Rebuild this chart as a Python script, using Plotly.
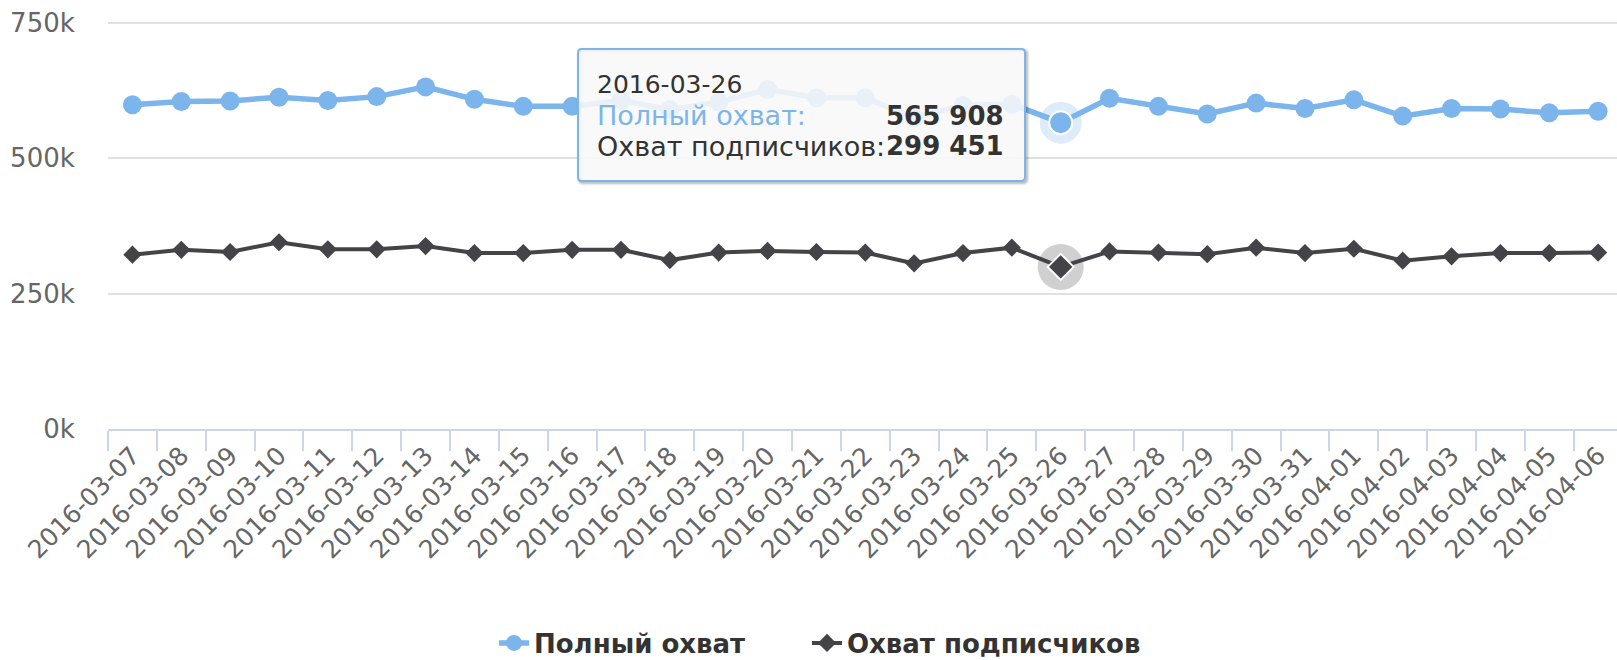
import plotly.graph_objects as go

# ---------------- data ----------------
dates = [
    "2016-03-07", "2016-03-08", "2016-03-09", "2016-03-10", "2016-03-11",
    "2016-03-12", "2016-03-13", "2016-03-14", "2016-03-15", "2016-03-16",
    "2016-03-17", "2016-03-18", "2016-03-19", "2016-03-20", "2016-03-21",
    "2016-03-22", "2016-03-23", "2016-03-24", "2016-03-25", "2016-03-26",
    "2016-03-27", "2016-03-28", "2016-03-29", "2016-03-30", "2016-03-31",
    "2016-04-01", "2016-04-02", "2016-04-03", "2016-04-04", "2016-04-05",
    "2016-04-06",
]
full_reach = [
    599000, 605000, 606000, 613000, 607000, 614000, 632000, 609000, 596000, 596000,
    607000, 590000, 604000, 627000, 612000, 612000, 575000, 598000, 600000, 565908,
    611000, 596000, 582000, 602000, 592000, 608000, 578000, 592000, 591000, 584000,
    587000,
]
subs_reach = [
    322000, 331000, 327000, 345000, 332000, 332000, 338000, 325000, 325000, 331000,
    331000, 312000, 326000, 329000, 327000, 326000, 306000, 325000, 335000, 299451,
    328000, 326000, 323000, 335000, 325000, 333000, 311000, 319000, 325000, 325000,
    326000,
]
series_names = ["Полный охват", "Охват подписчиков"]
y_tickvals = [0, 250000, 500000, 750000]
y_ticktext = ["0k", "250k", "500k", "750k"]
hover_date = "2016-03-26"

BLUE = "#7cb5ec"
DARK = "#434348"
FONT = "DejaVu Sans"

W, H = 1617, 660
ML, MR, MT, MB = 108, 0, 21, 231
PW, PH = W - ML - MR, H - MT - MB
Y_TOP = 750000 * (PH / (PH - 2))  # keep the 750k gridline 2px inside the plot


def px(x):
    return (x - ML) / PW


def py(y):
    return (H - MB - y) / PH


hi = dates.index(hover_date)

fig = go.Figure()
fig.add_trace(go.Scatter(
    x=dates, y=full_reach, name=series_names[0], mode="lines+markers",
    line=dict(color=BLUE, width=5.5),
    marker=dict(symbol="circle", size=19, color=BLUE),
    legend="legend",
))
fig.add_trace(go.Scatter(
    x=dates, y=subs_reach, name=series_names[1], mode="lines+markers",
    line=dict(color=DARK, width=4),
    marker=dict(symbol="diamond", size=14, color=DARK),
    legend="legend2",
))
# hover halos
fig.add_trace(go.Scatter(
    x=[dates[hi]], y=[full_reach[hi]], mode="markers", showlegend=False,
    marker=dict(symbol="circle", size=42, color="rgba(124,181,236,0.25)"),
    hoverinfo="skip",
))
fig.add_trace(go.Scatter(
    x=[dates[hi]], y=[full_reach[hi]], mode="markers", showlegend=False,
    marker=dict(symbol="circle", size=23, color=BLUE, line=dict(color="white", width=2)),
    hoverinfo="skip",
))
fig.add_trace(go.Scatter(
    x=[dates[hi]], y=[subs_reach[hi]], mode="markers", showlegend=False,
    marker=dict(symbol="circle", size=46, color="rgba(67,67,72,0.25)"),
    hoverinfo="skip",
))
fig.add_trace(go.Scatter(
    x=[dates[hi]], y=[subs_reach[hi]], mode="markers", showlegend=False,
    marker=dict(symbol="diamond", size=20, color=DARK, line=dict(color="white", width=2)),
    hoverinfo="skip",
))

# ---------------- tooltip ----------------
bx0, bx1, by0, by1, r = 578, 1025, 49, 181, 4


def rounded_path(x0, y0, x1, y1, r, dx=0, dy=0):
    x0, x1, y0, y1 = x0 + dx, x1 + dx, y0 + dy, y1 + dy
    pts = [
        f"M {px(x0 + r)} {py(y0)}",
        f"L {px(x1 - r)} {py(y0)}",
        f"Q {px(x1)} {py(y0)} {px(x1)} {py(y0 + r)}",
        f"L {px(x1)} {py(y1 - r)}",
        f"Q {px(x1)} {py(y1)} {px(x1 - r)} {py(y1)}",
        f"L {px(x0 + r)} {py(y1)}",
        f"Q {px(x0)} {py(y1)} {px(x0)} {py(y1 - r)}",
        f"L {px(x0)} {py(y0 + r)}",
        f"Q {px(x0)} {py(y0)} {px(x0 + r)} {py(y0)}",
        "Z",
    ]
    return " ".join(pts)


shapes = []
for w_, op in [(6, 0.05), (4, 0.08), (2, 0.12)]:
    shapes.append(dict(type="path", xref="paper", yref="paper", layer="above",
                       path=rounded_path(bx0, by0, bx1, by1, r, 1.5, 1.5),
                       fillcolor="rgba(0,0,0,0)", line=dict(color=f"rgba(0,0,0,{op})", width=w_)))
shapes.append(dict(type="path", xref="paper", yref="paper", layer="above",
                   path=rounded_path(bx0, by0, bx1, by1, r),
                   fillcolor="rgba(248,248,248,0.88)", line=dict(color=BLUE, width=2)))


def fmt(v):
    return f"{v:,}".replace(",", " ")


annotations = [
    dict(x=px(596), y=py(84), xref="paper", yref="paper", showarrow=False,
         xanchor="left", yanchor="middle", text=dates[hi], borderpad=0,
         font=dict(family=FONT, size=25, color="#333333")),
    dict(x=px(596), y=py(116), xref="paper", yref="paper", showarrow=False,
         xanchor="left", yanchor="middle", text=series_names[0] + ":", borderpad=0,
         font=dict(family=FONT, size=27, color=BLUE)),
    dict(x=px(1005), y=py(116), xref="paper", yref="paper", showarrow=False,
         xanchor="right", yanchor="middle", text="<b>" + fmt(full_reach[hi]) + "</b>", borderpad=0,
         font=dict(family=FONT, size=26, color="#333333")),
    dict(x=px(596), y=py(146), xref="paper", yref="paper", showarrow=False,
         xanchor="left", yanchor="middle", text=series_names[1] + ":", borderpad=0,
         font=dict(family=FONT, size=27, color="#333333")),
    dict(x=px(1005), y=py(146), xref="paper", yref="paper", showarrow=False,
         xanchor="right", yanchor="middle", text="<b>" + fmt(subs_reach[hi]) + "</b>", borderpad=0,
         font=dict(family=FONT, size=26, color="#333333")),
]

legend_common = dict(
    orientation="h", yanchor="middle", y=py(643), xanchor="left",
    font=dict(family=FONT, size=26, color="#333333", weight="bold"),
    itemsizing="trace", bgcolor="rgba(0,0,0,0)",
)

fig.update_layout(
    width=W, height=H,
    margin=dict(l=ML, r=MR, t=MT, b=MB, pad=0, autoexpand=False),
    paper_bgcolor="white", plot_bgcolor="white",
    font=dict(family=FONT, size=25, color="#666666"),
    showlegend=True,
    legend=dict(x=px(494), **legend_common),
    legend2=dict(x=px(807), **legend_common),
    shapes=shapes,
    annotations=annotations,
    hovermode=False,
    xaxis=dict(
        type="category", categoryorder="array", categoryarray=dates,
        range=[-0.5, -0.5 + PW / ((1574 - 108.3) / 30)],
        tickson="boundaries", ticks="outside", ticklen=20, tickwidth=2, tickcolor="#ccd6eb",
        showline=True, linecolor="#ccd6eb", linewidth=2, showgrid=False, zeroline=False,
        tickangle=-45, tickfont=dict(family=FONT, size=25, color="#666666"),
        automargin=False, fixedrange=True,
    ),
    yaxis=dict(
        range=[0, Y_TOP], tickvals=y_tickvals, ticktext=y_ticktext,
        showgrid=True, gridcolor="#e0e0e0", gridwidth=2, zeroline=False, showline=False,
        ticks="outside", ticklen=27, tickcolor="rgba(0,0,0,0)",
        tickfont=dict(family=FONT, size=26, color="#666666"),
        automargin=False, fixedrange=True,
    ),
)

fig.write_html(
    "out.html",
    config={"displayModeBar": False},
    post_script="document.body.style.margin='0';document.body.style.overflow='hidden';",
)
